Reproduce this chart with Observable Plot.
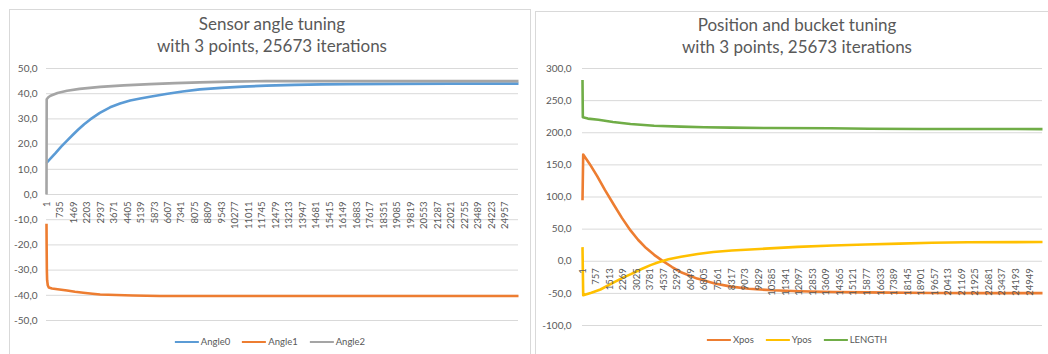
<!DOCTYPE html>
<html>
<head>
<meta charset="utf-8">
<script src="https://cdn.jsdelivr.net/npm/d3@7"></script>
<script src="https://cdn.jsdelivr.net/npm/@observablehq/plot@0.6"></script>
<style>
  html, body { margin: 0; padding: 0; background: #fff; }
  body { font-family: Lato, "Liberation Sans", Arial, sans-serif; }
  #root { position: relative; width: 1048px; height: 354px; overflow: hidden; background: #fff; }
  .panel { position: absolute; border: 1px solid #d9d9d9; background: #fff; box-sizing: border-box; }
  .title { position: absolute; transform: translateX(-50%); text-align: center; color: #595959;
           font-size: 17px; line-height: 22px; white-space: nowrap; }
  .legend { position: absolute; transform: translateX(-50%); display: flex; align-items: center;
            font-size: 9.5px; color: #595959; white-space: nowrap; }
  .legend .item { display: flex; align-items: center; margin: 0 6px; }
  .legend .sw { display: inline-block; width: 24px; height: 0; border-top: 2.5px solid; margin-right: 2px; }
  .chart { position: absolute; top: 0; }
  .chart svg { font-family: Lato, "Liberation Sans", Arial, sans-serif; }
</style>
</head>
<body>
<div id="root">
  <div class="panel" style="left:9px;top:9px;width:522px;height:360px;"></div>
  <div class="panel" style="left:535px;top:11px;width:530px;height:360px;"></div>
  <div id="leftChart" class="chart" style="left:0px;"></div>
  <div id="rightChart" class="chart" style="left:530px;"></div>
  <div class="title" style="left:272px;top:13px;">Sensor angle tuning<br>with 3 points, 25673 iterations</div>
  <div class="title" style="left:797px;top:14px;">Position and bucket tuning<br>with 3 points, 25673 iterations</div>
  <div id="leftLegend" class="legend" style="left:270px;top:336px;"></div>
  <div id="rightLegend" class="legend" style="left:797px;top:334px;"></div>
</div>
<script>
// ---------- DATA ----------
const totalIterations = 25673;

// Left chart: x tick labels (category labels)
const leftXTicks = [1, 735, 1469, 2203, 2937, 3671, 4405, 5139, 5873, 6607, 7341, 8075, 8809, 9543,
  10277, 11011, 11745, 12479, 13213, 13947, 14681, 15415, 16149, 16883, 17617, 18351, 19085,
  19819, 20553, 21287, 22021, 22755, 23489, 24223, 24957];
const leftYTicks = [-50, -40, -30, -20, -10, 0, 10, 20, 30, 40, 50];

// Right chart: x tick labels
const rightXTicks = [1, 757, 1513, 2269, 3025, 3781, 4537, 5293, 6049, 6805, 7561, 8317, 9073, 9829,
  10585, 11341, 12097, 12853, 13609, 14365, 15121, 15877, 16633, 17389, 18145, 18901, 19657,
  20413, 21169, 21925, 22681, 23437, 24193, 24949];
const rightYTicks = [-100, -50, 0, 50, 100, 150, 200, 250, 300];

// Series: [iteration, value]
const angle0 = [[1, 12.5], [250, 14.5], [490, 16.4], [800, 19.0], [1120, 21.4], [1450, 23.8], [1730, 25.8],
  [2050, 27.9], [2380, 29.8], [2900, 32.4], [3460, 34.6], [4000, 36.1], [4550, 37.3], [5100, 38.1],
  [5630, 38.8], [6500, 39.9], [7400, 40.9], [8340, 41.7], [9500, 42.3], [10700, 42.8], [11950, 43.2],
  [13500, 43.5], [15000, 43.7], [16460, 43.8], [19000, 43.9], [22000, 44.0], [25673, 44.0]];

const angle1 = [[1, -11.6], [8, -20.0], [20, -30.0], [35, -34.0], [70, -36.0], [125, -36.9], [300, -37.3],
  [600, -37.6], [1120, -38.1], [1550, -38.6], [2000, -39.0], [2500, -39.4], [2920, -39.7], [3800, -39.9],
  [4710, -40.1], [6170, -40.3], [10000, -40.3], [15000, -40.3], [20000, -40.3], [25673, -40.3]];

const angle2 = [[1, 0.0], [12, 37.8], [100, 38.6], [220, 39.2], [600, 40.3], [1120, 41.2], [1800, 41.9],
  [2920, 42.7], [4200, 43.3], [5630, 43.8], [7000, 44.2], [8340, 44.5], [10000, 44.8], [11950, 45.0],
  [15000, 45.0], [20000, 45.0], [25673, 45.0]];

const xpos = [[1, 95.0], [40, 166.0], [400, 151.5], [820, 132.5], [1250, 111.0], [1750, 88.0],
  [2200, 67.5], [2680, 48.0], [3100, 33.5], [3550, 20.5], [4000, 10.0], [4450, 1.0], [5000, -9.0],
  [5500, -17.0], [6400, -27.0], [7380, -34.5], [8300, -39.5], [9290, -42.8], [10600, -45.2],
  [12100, -46.8], [14000, -47.8], [15830, -48.5], [19600, -49.3], [22500, -49.6], [25673, -49.6]];

const ypos = [[1, 22.0], [40, -53.0], [500, -49.0], [1000, -44.0], [1750, -33.0], [2300, -25.0],
  [2700, -20.0], [3300, -12.0], [3800, -6.0], [4200, -2.0], [4800, 3.0], [5500, 7.0], [6430, 11.3],
  [7300, 14.3], [8330, 16.8], [10200, 19.6], [12000, 22.3], [13960, 24.5], [15800, 26.0],
  [17700, 27.4], [19500, 28.8], [21500, 29.6], [25673, 29.9]];

const lengthSeries = [[1, 282.0], [20, 224.0], [300, 222.0], [890, 220.3], [1700, 216.8], [2680, 213.5],
  [4000, 211.0], [5470, 209.6], [6800, 208.6], [8260, 207.9], [10500, 207.4], [13840, 207.0],
  [16000, 206.3], [19000, 205.9], [22000, 205.8], [25673, 205.7]];

const leftSeries = [
  {name: "Angle0", color: "#5B9BD5", data: angle0},
  {name: "Angle1", color: "#ED7D31", data: angle1},
  {name: "Angle2", color: "#A5A5A5", data: angle2}
];
const rightSeries = [
  {name: "Xpos", color: "#ED7D31", data: xpos},
  {name: "Ypos", color: "#FFC000", data: ypos},
  {name: "LENGTH", color: "#70AD47", data: lengthSeries}
];

// ---------- DRAWING ----------
const fmt = d => d.toFixed(1).replace(".", ",");
const textColor = "#595959";

function makeChart({width, marginLeft, marginRight, marginTop, marginBottom, yDomain, yTicks, xTicks, series, tickPadding}) {
  return Plot.plot({
    width, height: 354, marginLeft, marginRight, marginTop, marginBottom,
    style: {background: "transparent", color: textColor, overflow: "visible"},
    x: {domain: [1, totalIterations], axis: null},
    y: {domain: yDomain},
    marks: [
      Plot.gridY(yTicks, {stroke: "#d9d9d9", strokeOpacity: 1, strokeWidth: 1}),
      Plot.axisY(yTicks, {tickSize: 0, tickPadding, tickFormat: fmt, fontSize: 10, fill: textColor}),
      ...series.map(s => Plot.line(s.data, {
        x: d => d[0], y: d => d[1], stroke: s.color, strokeWidth: 2.6,
        strokeLinejoin: "round", strokeLinecap: "butt", curve: "linear"
      })),
      Plot.text(xTicks, {
        x: d => d, y: 0, text: d => String(d), rotate: -90, textAnchor: "end",
        dy: 7, fontSize: 9.5, fill: textColor
      })
    ]
  });
}

document.getElementById("leftChart").appendChild(makeChart({
  width: 530, marginLeft: 46, marginRight: 12, marginTop: 68, marginBottom: 34,
  yDomain: [-50, 50], yTicks: leftYTicks, xTicks: leftXTicks, series: leftSeries, tickPadding: 9
}));
document.getElementById("rightChart").appendChild(makeChart({
  width: 518, marginLeft: 52, marginRight: 6, marginTop: 68, marginBottom: 29,
  yDomain: [-100, 300], yTicks: rightYTicks, xTicks: rightXTicks, series: rightSeries, tickPadding: 11
}));

function makeLegend(el, series) {
  for (const s of series) {
    const item = document.createElement("span");
    item.className = "item";
    const sw = document.createElement("span");
    sw.className = "sw";
    sw.style.borderTopColor = s.color;
    const label = document.createElement("span");
    label.textContent = s.name;
    item.appendChild(sw);
    item.appendChild(label);
    el.appendChild(item);
  }
}
makeLegend(document.getElementById("leftLegend"), leftSeries);
makeLegend(document.getElementById("rightLegend"), rightSeries);
</script>
</body>
</html>
